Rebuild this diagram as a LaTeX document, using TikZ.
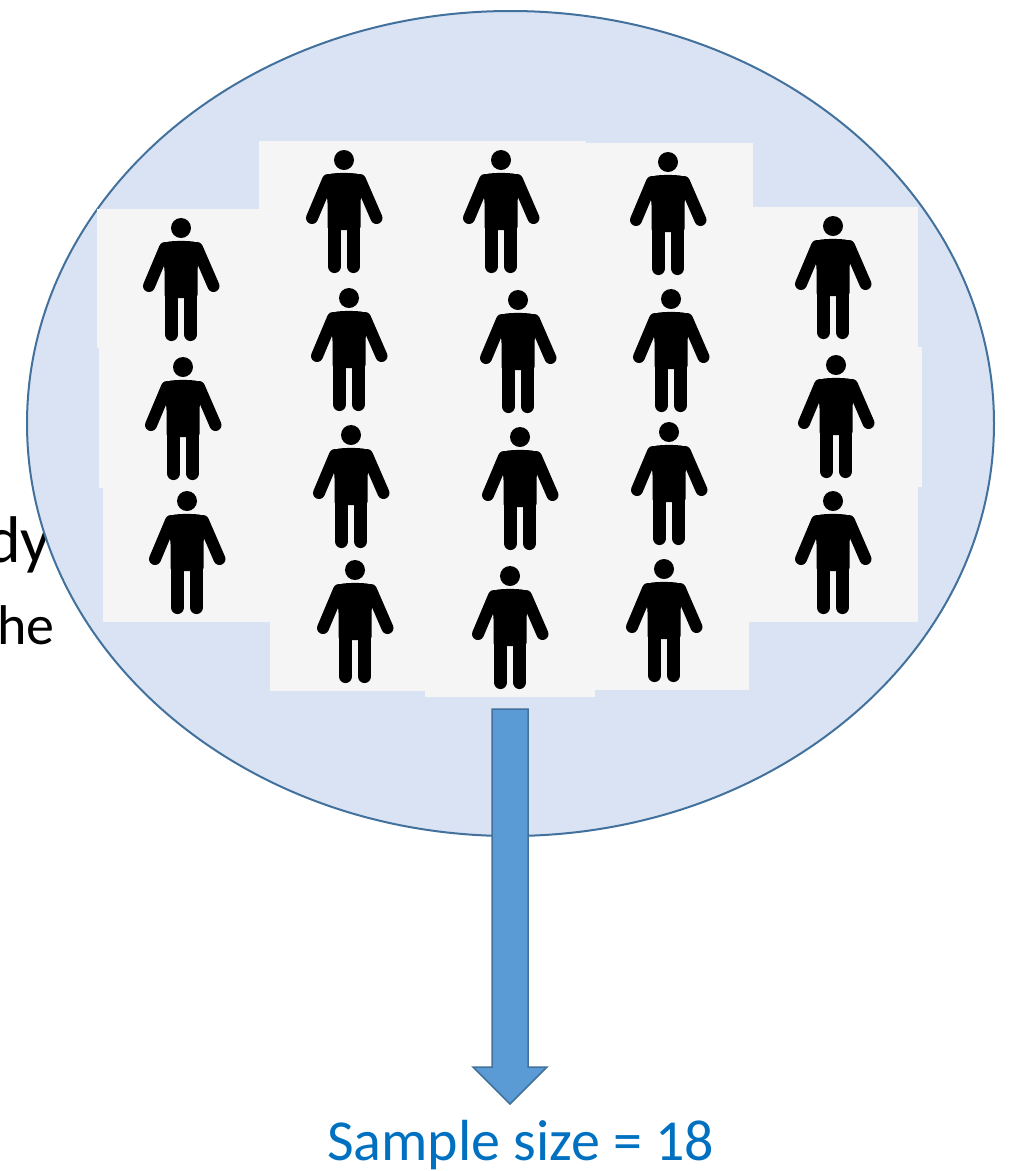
\documentclass[tikz,border=0pt]{standalone}
\usepackage{fontspec}
\setmainfont{Carlito}
\usetikzlibrary{shapes.geometric}
\definecolor{ellfill}{HTML}{DAE3F3}
\definecolor{edgeblue}{HTML}{41719C}
\definecolor{arrowblue}{HTML}{5B9BD5}
\definecolor{tile}{HTML}{F5F5F5}
\definecolor{labelblue}{HTML}{0070C0}
\tikzset{
  x=1pt,y=-1pt,
  tilebox/.style={fill=tile,draw=none},
  person/.pic={
    \fill[black] (0,0) circle[radius=10];
    \fill[black,rounded corners=3pt] (-14,13.5) -- (0,12.8) -- (14,13.5) -- (21,18) -- (16.5,40) -- (16.5,70) -- (-16.5,70) -- (-16.5,40) -- (-21,18) -- cycle;
    \draw[black,line width=12pt,line cap=round] (16,20) -- (32.5,58);
    \draw[black,line width=12pt,line cap=round] (-16,20) -- (-32,58);
    \draw[black,line width=13.5pt,line cap=round] (9.5,60) -- (9.5,106.3);
    \draw[black,line width=13.5pt,line cap=round] (-9.5,60) -- (-9.5,106.3);
  }
}
\begin{document}
\begin{tikzpicture}
\useasboundingbox (0,0) rectangle (1012,1171);
\node[anchor=base east,font=\fontsize{66}{66}\selectfont,inner sep=0pt] (dy) at (51,562) {dy};
\node[anchor=base east,font=\fontsize{56}{56}\selectfont,inner sep=0pt] (he) at (55,644) {he};
\draw[fill=ellfill,draw=edgeblue,line width=2pt] (510.5,423.5) ellipse[x radius=483.5,y radius=412.5];
% tiles
\fill[tilebox] (97,209) rectangle (262,348);
\fill[tilebox] (99,348) rectangle (270,488);
\fill[tilebox] (103,488) rectangle (270,622);
\fill[tilebox] (259,141) rectangle (586,560);
\fill[tilebox] (586,143) rectangle (753,560);
\fill[tilebox] (270,560) rectangle (425,691);
\fill[tilebox] (425,560) rectangle (595,697);
\fill[tilebox] (595,560) rectangle (749,690);
\fill[tilebox] (749,207) rectangle (918,347);
\fill[tilebox] (749,347) rectangle (922,487);
\fill[tilebox] (749,487) rectangle (918,622);
% people
\foreach \px/\py in {181/228,183/367,187/501,
  344/160,349/298,351/435,355/570,
  501/160,518/300,520/437,510/576,
  668/162,671/299,669/432,664/569,
  833/226,836/365,833/501}
  \pic at (\px,\py) {person};
% arrow
\draw[fill=arrowblue,draw=edgeblue,line width=1.5pt,line join=miter]
  (492,709) -- (528,709) -- (528,1067) -- (547,1067) -- (510,1104) -- (473,1067) -- (492,1067) -- cycle;
\node[anchor=base west,font=\fontsize{58}{58}\selectfont,text=labelblue,inner sep=0pt] (sample) at (327,1160) {Sample size = 18};
\end{tikzpicture}
\end{document}
